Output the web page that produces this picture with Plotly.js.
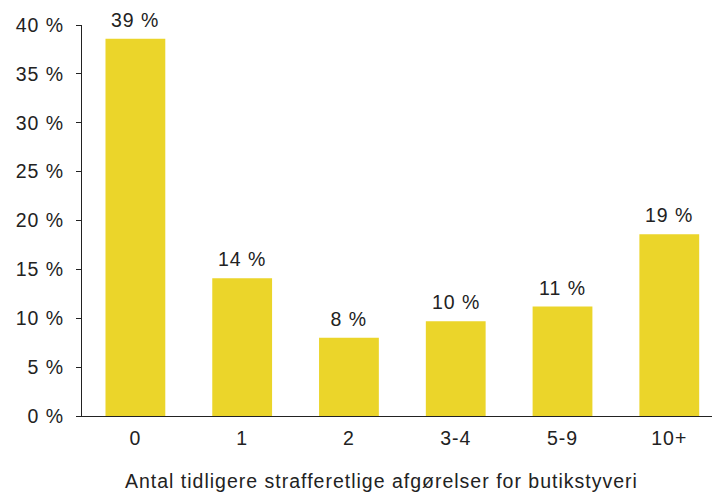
<!DOCTYPE html>
<html>
<head>
<meta charset="utf-8">
<script src="https://cdn.plot.ly/plotly-3.0.1.min.js"></script>
<style>
html,body{margin:0;padding:0;background:#fff;}
#chart{width:712px;height:495px;}
#chart svg text{letter-spacing:1px;}
</style>
</head>
<body>
<div id="chart"></div>
<script>
const categories = ["0", "1", "2", "3-4", "5-9", "10+"];
const shares = [38.6, 14.1, 8.0, 9.7, 11.2, 18.6];
const yTickValues = [0, 5, 10, 15, 20, 25, 30, 35, 40];
const yTickLabels = ["0 %", "5 %", "10 %", "15 %", "20 %", "25 %", "30 %", "35 %", "40 %"];
const xTitle = "Antal tidligere strafferetlige afgørelser for butikstyveri";

const font = {family: "Liberation Sans, Arial, sans-serif", size: 19.5, color: "#222222"};

const labels = categories.map((c, i) => ({
  x: c,
  y: shares[i],
  text: Math.round(shares[i]) + " %",
  xref: "x",
  yref: "y",
  showarrow: false,
  yanchor: "bottom",
  yshift: 6,
  font: font
}));

labels.push({
  text: xTitle,
  xref: "paper",
  yref: "paper",
  x: 0.476,
  y: -0.165,
  xanchor: "center",
  yanchor: "middle",
  showarrow: false,
  font: font
});

Plotly.newPlot("chart", [{
  type: "bar",
  x: categories,
  y: shares,
  width: 0.56,
  marker: {color: "#EBD52A"},
  hoverinfo: "none"
}], {
  width: 712,
  height: 495,
  margin: {l: 82, r: 0, t: 25, b: 79},
  paper_bgcolor: "#ffffff",
  plot_bgcolor: "#ffffff",
  font: font,
  showlegend: false,
  annotations: labels,
  xaxis: {
    type: "category",
    range: [-0.5, 5.4],
    showline: true,
    linecolor: "#222222",
    linewidth: 1,
    ticks: "",
    showgrid: false,
    zeroline: false,
    tickfont: font,
    ticklabelstandoff: 5
  },
  yaxis: {
    range: [0, 40],
    tickvals: yTickValues,
    ticktext: yTickLabels,
    showline: true,
    linecolor: "#222222",
    linewidth: 1,
    ticks: "outside",
    ticklen: 5,
    tickcolor: "#222222",
    ticklabelstandoff: 8,
    showgrid: false,
    zeroline: false,
    tickfont: font
  }
}, {staticPlot: true});
</script>
</body>
</html>
